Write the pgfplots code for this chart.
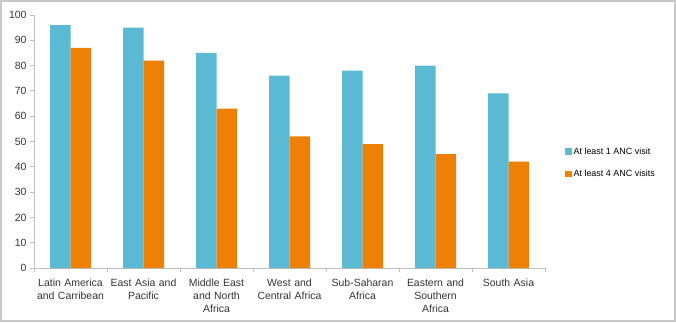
\documentclass[border=0pt]{standalone}
\usepackage{pgfplots}
\pgfplotsset{compat=1.18}
\usepackage{fontspec}
\setmainfont{Liberation Sans}
\definecolor{cyanbar}{RGB}{91,186,211}
\definecolor{orangebar}{RGB}{238,128,5}
\definecolor{axgray}{RGB}{190,190,190}
\definecolor{framegray}{RGB}{200,200,200}
\begin{document}
\begin{tikzpicture}[x=1bp,y=1bp]
\useasboundingbox (0,0) rectangle (676,322);
\draw[framegray, line width=1.6bp] (0.8,0.8) rectangle (675.2,321.2);
\begin{axis}[
  at={(34bp,54bp)}, anchor=south west,
  scale only axis, width=511bp, height=253bp,
  ybar=0pt, bar width=20.5bp,
  xmin=-0.5, xmax=6.5, ymin=0, ymax=100,
  ytick={0,10,...,100},
  xtick={-0.5,0.5,...,6.5},
  x tick label as interval,
  xticklabels={Latin America\\and Carribean, East Asia and\\Pacific, Middle East\\and North\\Africa, West and\\Central Africa, Sub-Saharan\\Africa, Eastern and\\Southern\\Africa, South Asia},
  xticklabel style={align=center, text width=80bp, font=\fontsize{10.5}{13}\selectfont, text=black!80, yshift=-3bp},
  yticklabel style={font=\fontsize{10.5}{12}\selectfont, text=black!80},
  /pgf/number format/assume math mode=true,
  tick align=outside, major tick length=4bp,
  tick style={draw=axgray, line width=0.8bp},
  axis x line*=bottom, axis y line*=left,
  axis line style={draw=axgray, line width=0.8bp, -},
  legend style={at={(1.033,0.415)}, anchor=west, draw=none, fill=none,
    font=\fontsize{9}{11}\selectfont, row sep=11bp, cells={anchor=west}},
  legend image code/.code={\fill[#1] (0bp,-3bp) rectangle (6.5bp,3.5bp);},
  legend cell align=left,
]
\addplot[fill=cyanbar, draw=none] coordinates {(0,96) (1,95) (2,85) (3,76) (4,78) (5,80) (6,69)};
\addplot[fill=orangebar, draw=none] coordinates {(0,87) (1,82) (2,63) (3,52) (4,49) (5,45) (6,42)};
\legend{At least 1 ANC visit, At least 4 ANC visits}
\end{axis}
\end{tikzpicture}
\end{document}
